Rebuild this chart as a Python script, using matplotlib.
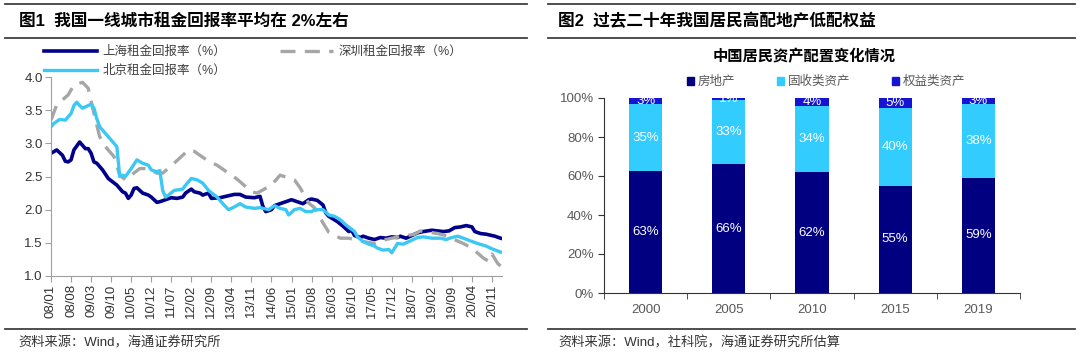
import matplotlib
matplotlib.use('Agg')
import matplotlib.pyplot as plt
from matplotlib.lines import Line2D
from matplotlib.patches import Patch

plt.rcParams['font.family'] = ['Liberation Sans', 'Noto Sans CJK SC']

# ---- 图1 data: rent yield (%) ----
sh_dates = ['2008-01', '2008-03', '2008-05', '2008-06', '2008-07', '2008-08', '2008-09', '2008-11', '2008-12',
            '2009-01', '2009-02', '2009-03', '2009-04', '2009-05', '2009-07', '2009-09', '2009-12',
            '2010-02', '2010-03', '2010-04', '2010-05', '2010-06', '2010-07', '2010-09', '2010-11', '2010-12',
            '2011-02', '2011-03', '2011-05', '2011-07', '2011-09', '2011-11', '2011-12',
            '2012-02', '2012-03', '2012-05', '2012-06', '2012-08', '2012-09', '2012-12',
            '2013-02', '2013-05', '2013-07', '2013-09', '2013-12',
            '2014-02', '2014-03', '2014-04', '2014-06', '2014-07', '2014-09', '2014-11',
            '2015-01', '2015-03', '2015-05', '2015-07', '2015-08', '2015-10', '2015-12',
            '2016-01', '2016-02', '2016-05', '2016-07', '2016-09', '2016-10', '2016-11',
            '2017-01', '2017-02', '2017-04', '2017-06', '2017-08', '2017-10', '2017-12',
            '2018-02', '2018-03', '2018-05', '2018-07', '2018-09', '2018-11',
            '2019-02', '2019-06', '2019-08', '2019-10', '2019-12',
            '2020-02', '2020-04', '2020-05', '2020-07', '2020-09', '2020-12', '2021-02']
sh_vals = [2.85, 2.90, 2.82, 2.73, 2.72, 2.75, 2.90, 3.02, 2.97,
           2.92, 2.92, 2.85, 2.72, 2.70, 2.60, 2.47, 2.37,
           2.27, 2.25, 2.17, 2.22, 2.32, 2.33, 2.25, 2.22, 2.19,
           2.11, 2.12, 2.15, 2.18, 2.17, 2.19, 2.25,
           2.31, 2.27, 2.25, 2.22, 2.25, 2.17, 2.18,
           2.20, 2.23, 2.23, 2.19, 2.18,
           2.20, 2.05, 1.97, 2.00, 2.06, 2.09, 2.12,
           2.15, 2.12, 2.09, 2.15, 2.16, 2.14, 2.07,
           1.95, 1.90, 1.82, 1.75, 1.67, 1.69, 1.61,
           1.58, 1.60, 1.57, 1.55, 1.58, 1.57, 1.59,
           1.58, 1.60, 1.57, 1.61, 1.65, 1.67,
           1.69, 1.67, 1.68, 1.73, 1.74,
           1.76, 1.74, 1.67, 1.64, 1.63, 1.60, 1.57]

sz_dates = ['2008-01', '2008-03', '2008-07', '2008-09', '2008-12', '2009-02', '2009-04', '2009-06', '2009-08',
            '2009-11', '2010-01', '2010-03', '2010-05', '2010-08', '2010-11', '2011-02', '2011-04', '2011-08',
            '2012-01', '2012-03', '2012-08', '2012-11', '2013-03', '2013-06', '2013-11', '2014-01', '2014-06',
            '2014-09', '2015-02', '2015-04', '2015-07', '2015-09', '2015-12', '2016-02', '2016-06', '2016-09',
            '2017-02', '2017-06', '2017-09', '2017-12', '2018-08', '2018-10', '2019-04', '2019-06',
            '2020-01', '2020-04', '2020-08', '2020-10', '2020-11', '2021-01', '2021-02']
sz_vals = [3.35, 3.58, 3.73, 3.88, 3.92, 3.83, 3.45, 3.10, 2.95,
           2.80, 2.52, 2.45, 2.52, 2.62, 2.62, 2.55, 2.55, 2.70,
           2.90, 2.88, 2.73, 2.67, 2.55, 2.46, 2.27, 2.25, 2.37,
           2.52, 2.45, 2.33, 2.10, 2.03, 1.80, 1.66, 1.57, 1.57,
           1.52, 1.49, 1.54, 1.57, 1.63, 1.68, 1.64, 1.62,
           1.49, 1.42, 1.27, 1.22, 1.33, 1.19, 1.15]

bj_dates = ['2008-01', '2008-02', '2008-04', '2008-06', '2008-08', '2008-09', '2008-10', '2008-11', '2008-12',
            '2009-02', '2009-03', '2009-04', '2009-05', '2009-06', '2009-08', '2009-10', '2009-12',
            '2010-01', '2010-02', '2010-03', '2010-05', '2010-07', '2010-09', '2010-11', '2010-12',
            '2011-02', '2011-03', '2011-04', '2011-05', '2011-06', '2011-08', '2011-11', '2011-12',
            '2012-02', '2012-04', '2012-06', '2012-08', '2012-11',
            '2013-01', '2013-03', '2013-05', '2013-07', '2013-09', '2013-12',
            '2014-02', '2014-05', '2014-07', '2014-09', '2014-11', '2014-12',
            '2015-02', '2015-04', '2015-06', '2015-08', '2015-09', '2015-12',
            '2016-02', '2016-04', '2016-06', '2016-08', '2016-11', '2016-12',
            '2017-02', '2017-04', '2017-06', '2017-07', '2017-09', '2017-11', '2017-12',
            '2018-02', '2018-04', '2018-06', '2018-09', '2018-11',
            '2019-02', '2019-05', '2019-07', '2019-09', '2019-11',
            '2020-01', '2020-04', '2020-06', '2020-09', '2020-11', '2021-02']
bj_vals = [3.25, 3.30, 3.36, 3.35, 3.45, 3.57, 3.62, 3.57, 3.53,
           3.57, 3.59, 3.53, 3.37, 3.25, 3.15, 3.05, 2.95,
           2.50, 2.52, 2.50, 2.62, 2.75, 2.70, 2.67, 2.60,
           2.57, 2.59, 2.29, 2.19, 2.22, 2.29, 2.31, 2.37,
           2.47, 2.45, 2.40, 2.29, 2.19,
           2.09, 2.00, 2.04, 2.09, 2.04, 2.02,
           2.03, 2.00, 2.06, 2.02, 2.00, 1.92,
           2.00, 2.02, 1.97, 1.97, 2.00, 2.00,
           1.92, 1.90, 1.85, 1.77, 1.67, 1.59,
           1.52, 1.48, 1.45, 1.42, 1.39, 1.40, 1.35,
           1.49, 1.48, 1.52, 1.58, 1.59,
           1.57, 1.57, 1.55, 1.58, 1.60,
           1.57, 1.52, 1.49, 1.45, 1.41, 1.36]

x_labels = ['08/01', '08/08', '09/03', '09/10', '10/05', '10/12', '11/07', '12/02', '12/09', '13/04', '13/11',
            '14/06', '15/01', '15/08', '16/03', '16/10', '17/05', '17/12', '18/07', '19/02', '19/09', '20/04', '20/11']

# ---- 图2 data ----
years = ['2000', '2005', '2010', '2015', '2019']
house = [63, 66, 62, 55, 59]
fixed = [35, 33, 34, 40, 38]
equity = [3, 1, 4, 5, 3]


def month_idx(s):
    y, m = s.split('-')
    return (int(y) - 2008) * 12 + int(m) - 1


def label_idx(s):
    y, m = s.split('/')
    return int(y) * 12 + int(m) - 1 - 8 * 12


W, H = 1080, 357
fig = plt.figure(figsize=(W / 100, H / 100), dpi=100)
txt = '#333333'
grey = '#A0A0A0'

# frame lines and captions
for x0, x1 in [(5, 527), (548, 1075)]:
    for y in [4, 38, 329]:
        fig.add_artist(Line2D([x0 / W, x1 / W], [1 - y / H, 1 - y / H], color='#404040', lw=1.3))
fig.text(19 / W, 1 - 21 / H, '图1  我国一线城市租金回报率平均在 2%左右', fontsize=12, weight='bold', va='center')
fig.text(558 / W, 1 - 21 / H, '图2  过去二十年我国居民高配地产低配权益', fontsize=12, weight='bold', va='center')
fig.text(18 / W, 1 - 343 / H, '资料来源：Wind，海通证券研究所', fontsize=9.5, va='center', color=txt)
fig.text(558 / W, 1 - 343 / H, '资料来源：Wind，社科院，海通证券研究所估算', fontsize=9.5, va='center', color=txt)

# ---- left: line chart ----
ax1 = fig.add_axes([51 / W, 1 - 276 / H, (502 - 51) / W, (276 - 77) / H])
l_sh, = ax1.plot([month_idx(d) for d in sh_dates], sh_vals, color='#00008B', lw=2.6, label='上海租金回报率（%）')
l_sz, = ax1.plot([month_idx(d) for d in sz_dates], sz_vals, color='#A6A6A6', lw=2.4, dashes=(4.5, 2.8),
                 label='深圳租金回报率（%）')
l_bj, = ax1.plot([month_idx(d) for d in bj_dates], bj_vals, color='#3CC8F5', lw=2.4, label='北京租金回报率（%）')
ax1.set_xlim(0, 157.5)
ax1.set_ylim(1.0, 4.0)
ax1.set_yticks([1.0, 1.5, 2.0, 2.5, 3.0, 3.5, 4.0])
ax1.set_yticklabels(['%.1f' % v for v in [1.0, 1.5, 2.0, 2.5, 3.0, 3.5, 4.0]])
ax1.set_xticks([label_idx(s) for s in x_labels])
ax1.set_xticklabels(x_labels, rotation=90)
for s in ['top', 'right']:
    ax1.spines[s].set_visible(False)
for s in ['left', 'bottom']:
    ax1.spines[s].set_color(grey)
ax1.tick_params(labelsize=9.5, labelcolor=txt, color=grey, length=4, pad=2)
ax1.legend(handles=[l_sh, l_bj, l_sz], ncol=2, loc='upper left', bbox_to_anchor=(44 / W, 1 - 46 / H),
           bbox_transform=fig.transFigure, frameon=False, fontsize=9, handlelength=4.2, handletextpad=0.5,
           columnspacing=4.3, labelspacing=0.55, borderaxespad=0, borderpad=0, labelcolor='#404040')

# ---- right: 100% stacked bars ----
ax2 = fig.add_axes([604 / W, 1 - 293 / H, (1020 - 604) / W, (293 - 98) / H])
c_house, c_fixed, c_eq = '#000080', '#33CCFF', '#1414D2'
xs = list(range(len(years)))
for i in xs:
    tot = house[i] + fixed[i] + equity[i]
    parts = [(house[i], c_house), (fixed[i], c_fixed), (equity[i], c_eq)]
    bottom = 0
    for v, c in parts:
        h = v / tot * 100
        ax2.bar(i, h, bottom=bottom, width=0.4, color=c)
        ax2.text(i, bottom + h / 2, '%d%%' % v, color='white', ha='center', va='center', fontsize=9.5)
        bottom += h
ax2.set_xlim(-0.5, 4.5)
ax2.set_ylim(0, 100)
ax2.set_yticks([0, 20, 40, 60, 80, 100])
ax2.set_yticklabels(['%d%%' % v for v in [0, 20, 40, 60, 80, 100]])
ax2.set_xticks(xs)
ax2.set_xticklabels(years)
ax2.set_xticks([i - 0.5 for i in range(len(years) + 1)], minor=True)
ax2.tick_params(axis='x', which='major', length=0, pad=8)
ax2.tick_params(axis='x', which='minor', length=4, color='#333333')
ax2.tick_params(axis='y', length=4, color='#333333')
ax2.tick_params(labelsize=9.5, labelcolor='#595959')
for s in ['top', 'right']:
    ax2.spines[s].set_visible(False)
for s in ['left', 'bottom']:
    ax2.spines[s].set_color('#333333')
fig.text(804 / W, 1 - 57 / H, '中国居民资产配置变化情况', ha='center', va='center', fontsize=11, weight='bold')
fig.legend(handles=[Patch(color=c_house, label='房地产'), Patch(color=c_fixed, label='固收类资产'),
                    Patch(color=c_eq, label='权益类资产')],
           loc='center', bbox_to_anchor=(826 / W, 1 - 82 / H), ncol=3, frameon=False, fontsize=9,
           handlelength=0.6, handleheight=0.6, handletextpad=0.3, columnspacing=3.3, labelcolor='#595959')

fig.savefig('out.png', dpi=100)
